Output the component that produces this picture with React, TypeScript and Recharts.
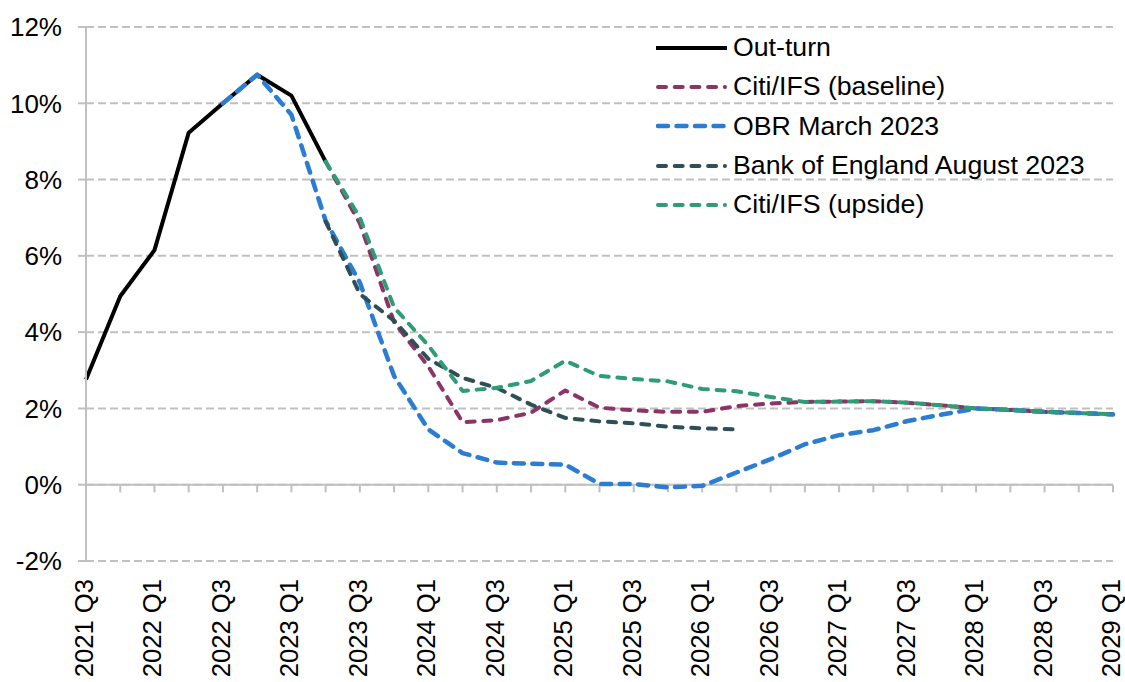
import React from "react";
import {
  LineChart,
  Line,
  XAxis,
  YAxis,
  CartesianGrid,
  ReferenceLine,
  Legend,
} from "recharts";

const quarters = [
  "2021 Q3", "2021 Q4", "2022 Q1", "2022 Q2", "2022 Q3", "2022 Q4",
  "2023 Q1", "2023 Q2", "2023 Q3", "2023 Q4", "2024 Q1", "2024 Q2",
  "2024 Q3", "2024 Q4", "2025 Q1", "2025 Q2", "2025 Q3", "2025 Q4",
  "2026 Q1", "2026 Q2", "2026 Q3", "2026 Q4", "2027 Q1", "2027 Q2",
  "2027 Q3", "2027 Q4", "2028 Q1", "2028 Q2", "2028 Q3", "2028 Q4",
  "2029 Q1",
];

// CPI inflation, %
const outTurn = [
  2.76, 4.94, 6.15, 9.23, 10.0, 10.75, 10.2, 8.47,
  null, null, null, null, null, null, null, null, null, null, null, null,
  null, null, null, null, null, null, null, null, null, null, null,
];

const citiBaseline = [
  null, null, null, null, null, null, null,
  8.47, 6.85, 4.26, 3.1, 1.64, 1.69, 1.89, 2.47, 2.02, 1.95, 1.91, 1.91,
  2.06, 2.13, 2.17, 2.18, 2.19, 2.15, 2.08, 2.0, 1.96, 1.91, 1.88, 1.85,
];

const obrMarch2023 = [
  null, null, null, null,
  10.0, 10.75, 9.7, 6.92, 5.3, 2.85, 1.45, 0.83, 0.58, 0.55, 0.53, 0.02,
  0.02, -0.07, -0.03, 0.32, 0.67, 1.06, 1.3, 1.43, 1.67, 1.84, 2.0, 1.96,
  1.91, 1.88, 1.84,
];

const boeAugust2023 = [
  null, null, null, null, null, null, null,
  6.9, 5.0, 4.3, 3.3, 2.8, 2.54, 2.1, 1.75, 1.66, 1.61, 1.52, 1.48, 1.45,
  null, null, null, null, null, null, null, null, null, null, null,
];

const citiUpside = [
  null, null, null, null, null, null, null,
  8.47, 7.0, 4.65, 3.65, 2.46, 2.54, 2.72, 3.25, 2.85, 2.77, 2.71, 2.51,
  2.45, 2.3, 2.17, 2.18, 2.19, 2.15, 2.08, 2.0, 1.96, 1.91, 1.88, 1.85,
];

const yTicks = [-2, 0, 2, 4, 6, 8, 10, 12];

const data = quarters.map((q, i) => ({
  quarter: q,
  outTurn: outTurn[i],
  citiBaseline: citiBaseline[i],
  obr: obrMarch2023[i],
  boe: boeAugust2023[i],
  citiUpside: citiUpside[i],
}));

const FONT = "'Liberation Sans', Arial, sans-serif";
const GRID = "#C0C0C0";

const series = [
  { key: "outTurn", name: "Out-turn", color: "#000000", width: 4, dash: undefined, cap: "butt" },
  { key: "citiBaseline", name: "Citi/IFS (baseline)", color: "#8C3465", width: 4, dash: "8 8.7", cap: "round" },
  { key: "obr", name: "OBR March 2023", color: "#2A7DD1", width: 4.5, dash: "10 8.5", cap: "round" },
  { key: "boe", name: "Bank of England August 2023", color: "#2F4F57", width: 4, dash: "8 8.7", cap: "round" },
  { key: "citiUpside", name: "Citi/IFS (upside)", color: "#2E9C75", width: 4, dash: "8 8.7", cap: "round" },
];

const QuarterTick = (props: any) => {
  const { x, y, payload, index } = props;
  // labels only on every other quarter, like the original
  if (index % 2 !== 0) return <g />;
  const tx = x - 2;
  const ty = y + 18;
  return (
    <text
      x={tx}
      y={ty}
      transform={`rotate(-90 ${tx} ${ty})`}
      textAnchor="end"
      dominantBaseline="central"
      fontFamily={FONT}
      fontSize={25.6}
      fill="#000"
    >
      {payload.value}
    </text>
  );
};

const LegendBox = () => (
  <div style={{ fontFamily: FONT, fontSize: 26.7, color: "#000" }}>
    {series.map((s) => (
      <div
        key={s.key}
        style={{ display: "flex", alignItems: "center", height: 39.3, whiteSpace: "nowrap" }}
      >
        <svg width={71} height={10} style={{ marginRight: 6, flexShrink: 0 }}>
          <line
            x1={s.cap === "round" ? 2 : 0}
            y1={5}
            x2={s.cap === "round" ? 69 : 71}
            y2={5}
            stroke={s.color}
            strokeWidth={s.width}
            strokeDasharray={s.dash}
            strokeLinecap={s.cap as any}
          />
        </svg>
        <span>{s.name}</span>
      </div>
    ))}
  </div>
);

export default function App() {
  return (
    <div style={{ position: "absolute", left: 0, top: 0, background: "#fff" }}>
      <LineChart
        width={1125}
        height={682}
        data={data}
        margin={{ top: 27, right: 12, bottom: 0, left: 0 }}
      >
        <CartesianGrid
          vertical={false}
          stroke={GRID}
          strokeWidth={2}
          strokeDasharray="8 4"
        />
        <XAxis
          dataKey="quarter"
          interval={0}
          height={121}
          axisLine={false}
          tickLine={false}
          tickSize={0}
          tickMargin={0}
          tick={<QuarterTick />}
        />
        <YAxis
          width={86}
          domain={[-2, 12]}
          ticks={yTicks}
          allowDataOverflow
          tickFormatter={(v: number) => `${v}%`}
          axisLine={{ stroke: GRID, strokeWidth: 2 }}
          tickLine={{ stroke: GRID, strokeWidth: 2 }}
          tickSize={8}
          tickMargin={16}
          tick={{ fontFamily: FONT, fontSize: 26, fill: "#000" }}
        />
        {/* the category axis line sits at 0% */}
        <ReferenceLine y={0} stroke={GRID} strokeWidth={2} />
        {quarters.map((q) => (
          <ReferenceLine
            key={q}
            segment={[{ x: q, y: 0 }, { x: q, y: -0.2 }]}
            stroke={GRID}
            strokeWidth={2}
          />
        ))}
        <Legend
          layout="vertical"
          align="center"
          verticalAlign="middle"
          content={<LegendBox />}
          wrapperStyle={{ top: 28, left: 656, width: 460 }}
        />
        {series.map((s) => (
          <Line
            key={s.key}
            type="linear"
            dataKey={s.key}
            name={s.name}
            stroke={s.color}
            strokeWidth={s.width}
            strokeDasharray={s.dash}
            strokeLinecap={s.cap as any}
            strokeLinejoin="round"
            dot={false}
            activeDot={false}
            connectNulls={false}
            isAnimationActive={false}
          />
        ))}
      </LineChart>
    </div>
  );
}
